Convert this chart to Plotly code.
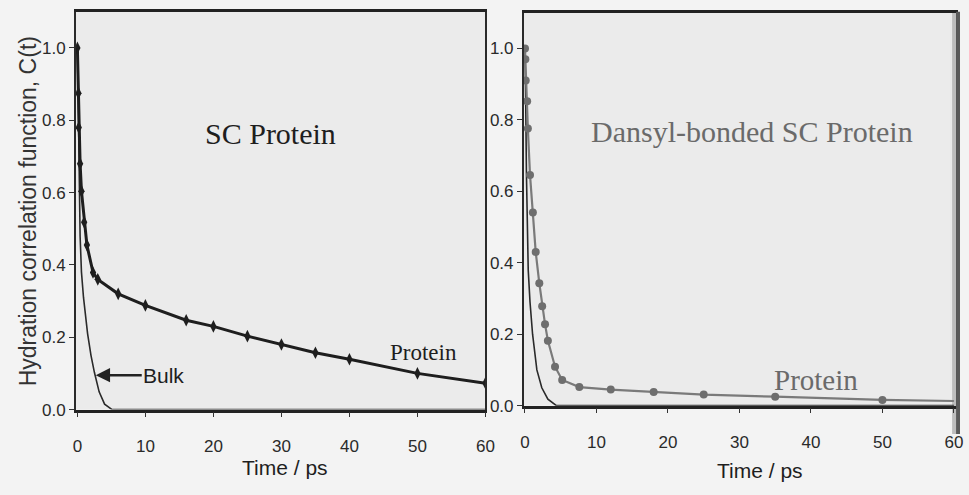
import plotly.graph_objects as go

# ---- SC protein panel (left) ----
sc_t = [0, 0.15, 0.2, 0.4, 0.6, 1.0, 1.4, 2.3, 3.0, 6, 10, 16, 20, 25, 30, 35, 40, 50, 60]
sc_c = [1.0, 0.875, 0.78, 0.68, 0.604, 0.518, 0.455, 0.379, 0.36, 0.32, 0.288, 0.247,
        0.23, 0.203, 0.18, 0.157, 0.139, 0.10, 0.073]
bulk_left_t = [0, 0.1, 0.2, 0.4, 0.6, 0.9, 1.2, 1.5, 2.0, 2.5, 3.2, 4.0, 5.1, 60]
bulk_left_c = [1.0, 0.9, 0.75, 0.48, 0.38, 0.31, 0.25, 0.21, 0.15, 0.103, 0.049, 0.015, 0.0, 0.0]

# ---- Dansyl-bonded SC protein panel (right) ----
dan_t = [0, 0.05, 0.1, 0.3, 0.4, 0.7, 1.1, 1.5, 2.0, 2.4, 2.8, 3.2, 4.2, 5.2, 7.6, 12, 18, 25, 35, 50]
dan_c = [1.0, 0.97, 0.91, 0.852, 0.776, 0.646, 0.541, 0.43, 0.343, 0.278, 0.228, 0.182,
         0.109, 0.072, 0.052, 0.045, 0.038, 0.031, 0.025, 0.016]
dan_tail_t = [60]
dan_tail_c = [0.013]
bulk_right_t = [0, 0.05, 0.1, 0.2, 0.3, 0.45, 0.7, 1.06, 1.66, 2.35, 3.2, 4.4, 60]
bulk_right_c = [1.0, 0.95, 0.85, 0.65, 0.47, 0.38, 0.29, 0.2, 0.1, 0.05, 0.018, 0.0, 0.0]

x_ticks = [0, 10, 20, 30, 40, 50, 60]
y_ticks = [0.0, 0.2, 0.4, 0.6, 0.8, 1.0]
y_ticklabels = ["0.0", "0.2", "0.4", "0.6", "0.8", "1.0"]

W, H = 969, 495
SANS = "Liberation Sans, Arial, sans-serif"
SERIF = "Liberation Serif, Times New Roman, serif"

fig = go.Figure()

# left panel curves
fig.add_trace(go.Scatter(x=bulk_left_t, y=bulk_left_c, mode="lines",
                         line=dict(color="#2a2a2a", width=1.6),
                         xaxis="x", yaxis="y", showlegend=False))
fig.add_trace(go.Scatter(x=sc_t, y=sc_c, mode="lines+markers",
                         line=dict(color="#1e1e1e", width=3),
                         marker=dict(symbol="diamond-tall", size=9, color="#1e1e1e"),
                         xaxis="x", yaxis="y", showlegend=False))

# right panel curves
fig.add_trace(go.Scatter(x=bulk_right_t, y=bulk_right_c, mode="lines",
                         line=dict(color="#2a2a2a", width=1.6),
                         xaxis="x2", yaxis="y2", showlegend=False))
fig.add_trace(go.Scatter(x=dan_t + dan_tail_t, y=dan_c + dan_tail_c, mode="lines",
                         line=dict(color="#7a7a7a", width=2.2),
                         xaxis="x2", yaxis="y2", showlegend=False))
fig.add_trace(go.Scatter(x=dan_t, y=dan_c, mode="markers",
                         marker=dict(symbol="circle", size=8, color="#6e6e6e"),
                         xaxis="x2", yaxis="y2", showlegend=False))


def xax(domain, rng):
    return dict(domain=domain, range=rng, tickvals=x_ticks, ticks="outside", ticklen=5,
                tickcolor="#333", tickwidth=1.2, showline=True, linecolor="#222",
                linewidth=2.5, mirror=True, showgrid=False, zeroline=False,
                ticklabelstandoff=14, tickfont=dict(family=SANS, size=17, color="#2a2a2a"))


def yax(domain, anchor):
    return dict(domain=domain, range=[0, 1.1], tickvals=y_ticks, ticktext=y_ticklabels,
                ticks="outside", ticklen=5, tickcolor="#333", tickwidth=1.2,
                showline=True, linecolor="#2a2a2a", linewidth=2, mirror=True,
                showgrid=False, zeroline=False, anchor=anchor,
                tickfont=dict(family=SANS, size=17, color="#2a2a2a"))


fig.update_layout(
    width=W, height=H,
    margin=dict(l=0, r=0, t=0, b=0),
    paper_bgcolor="#f3f3f3",
    plot_bgcolor="#ebebeb",
    xaxis=dict(xax([73 / W, 488 / W], [-0.2, 60.0]), anchor="y"),
    yaxis=yax([1 - 418 / H, 1 - 12 / H], "x"),
    xaxis2=dict(xax([527 / W, 965 / W], [-0.15, 60.3]), anchor="y2"),
    yaxis2=yax([1 - 414 / H, 1 - 13 / H], "x2"),
)


def label(text, px, py, font, **kw):
    return dict(text=text, x=px / W, y=1 - py / H, xref="paper", yref="paper",
                xanchor="center", yanchor="middle", showarrow=False, font=font, **kw)


annotations = [
    label("SC Protein", 270, 136, dict(family=SERIF, size=30, color="#1e1e1e")),
    label("Dansyl-bonded SC Protein", 758, 134, dict(family=SERIF, size=30, color="#6a6a6a")),
    label("Protein", 425, 360, dict(family=SERIF, size=23, color="#1e1e1e")),
    label("Protein", 823, 388, dict(family=SERIF, size=29, color="#6a6a6a")),
    label("Time / ps", 285, 477, dict(family=SANS, size=21, color="#1e1e1e")),
    label("Time / ps", 766, 480, dict(family=SANS, size=21, color="#1e1e1e")),
    label("Hydration correlation function, C(t)", 24, 216,
          dict(family=SANS, size=23, color="#333"), textangle=-90),
    dict(text="Bulk", x=2.7, y=0.095, xref="x", yref="y", ax=68, ay=0,
         xanchor="center", yanchor="middle",
         showarrow=True, arrowhead=2, arrowsize=1.1, arrowwidth=2.6, arrowcolor="#222",
         standoff=0, font=dict(family=SANS, size=21, color="#1e1e1e")),
]
fig.update_layout(annotations=annotations)

# darker band along the right border of the page
fig.update_layout(shapes=[
    dict(type="rect", xref="paper", yref="paper", x0=961 / W, x1=965 / W,
         y0=1 - 443 / H, y1=1 - 12 / H, fillcolor="#bdbdbd", line=dict(width=0), layer="below"),
    dict(type="rect", xref="paper", yref="paper", x0=965 / W, x1=1,
         y0=1 - 443 / H, y1=1 - 12 / H, fillcolor="#5a5a5a", line=dict(width=0)),
])

fig.write_html("out.html")
